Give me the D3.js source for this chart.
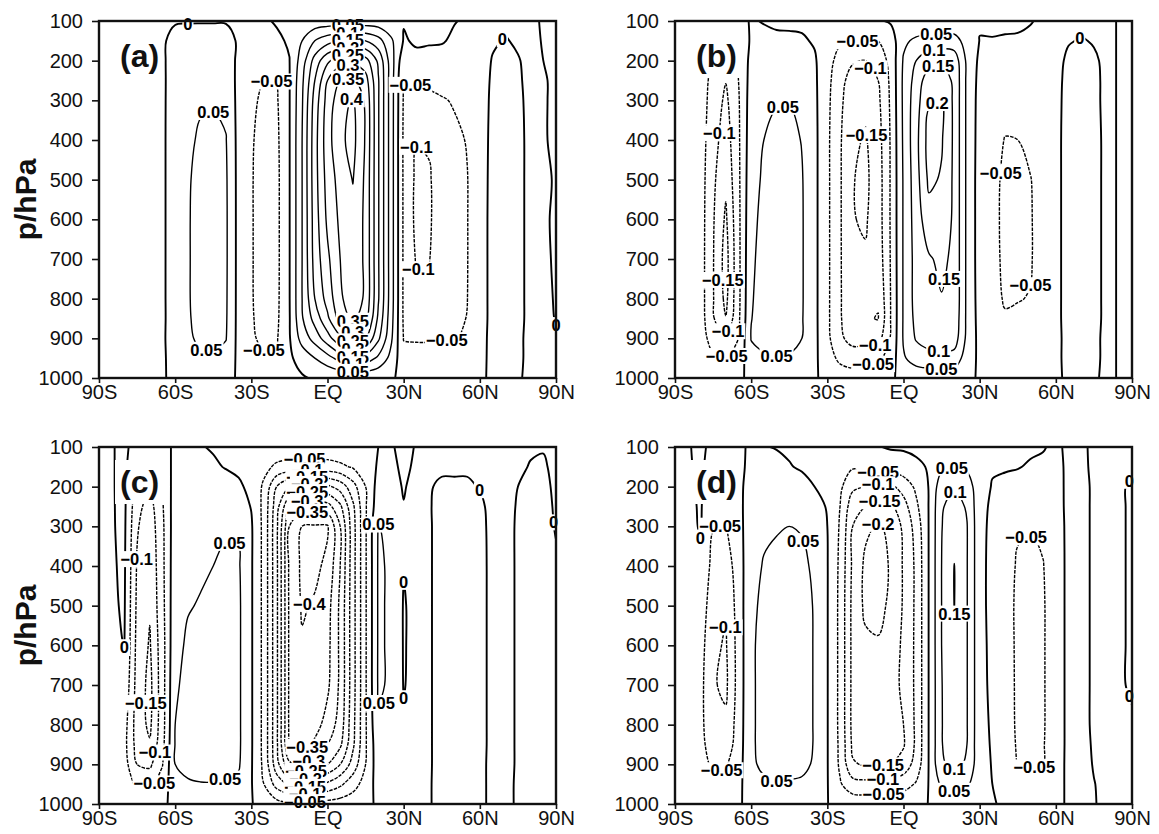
<!DOCTYPE html>
<html>
<head>
<meta charset="utf-8">
<script src="https://cdn.jsdelivr.net/npm/d3@7"></script>
<style>
  body { margin: 0; background: #fff; }
  svg { display: block; }
</style>
</head>
<body>
<svg id="chart" width="1159" height="834"></svg>
<script>
// grid: latitude columns (90S..90N) and pressure rows (hPa, top to bottom)
const lats = [-90,-85,-80,-75,-70,-65,-60,-55,-50,-45,-40,-35,-30,-25,-20,-15,-10,-5,0,
              5,10,15,20,25,30,35,40,45,50,55,60,65,70,75,80,85,90];
const levels = [100,150,200,250,300,400,500,600,700,800,850,900,950,1000];

const contourLevels = [-0.4,-0.35,-0.3,-0.25,-0.2,-0.15,-0.1,-0.05,0,
                       0.05,0.1,0.15,0.2,0.25,0.3,0.35,0.4];

const latTicks = [-90,-60,-30,0,30,60,90];
const latTickLabels = ["90S","60S","30S","EQ","30N","60N","90N"];
const pTicks = [100,200,300,400,500,600,700,800,900,1000];

// one profile per latitude, values at the 14 levels above
const psiA = [
  [-.004,-.005,-.006,-.007,-.007,-.007,-.007,-.007,-.007,-.007,-.007,-.006,-.005,-.004],
  [-.004,-.005,-.006,-.007,-.007,-.007,-.007,-.007,-.007,-.007,-.007,-.006,-.005,-.004],
  [-.004,-.005,-.006,-.007,-.007,-.007,-.007,-.007,-.007,-.007,-.007,-.006,-.005,-.004],
  [-.004,-.006,-.007,-.008,-.008,-.008,-.008,-.008,-.008,-.008,-.008,-.007,-.006,-.005],
  [-.004,-.006,-.007,-.008,-.008,-.008,-.008,-.008,-.008,-.008,-.008,-.007,-.006,-.005],
  [-.004,-.005,-.006,-.007,-.007,-.007,-.007,-.007,-.007,-.007,-.007,-.006,-.006,-.005],
  [-.003,.012,.018,.02,.021,.022,.022,.022,.022,.022,.021,.02,.016,.012],
  [-.003,.02,.03,.033,.036,.042,.046,.047,.047,.047,.046,.045,.035,.02],
  [-.003,.022,.035,.04,.045,.056,.062,.063,.063,.063,.062,.056,.045,.022],
  [-.003,.022,.035,.04,.045,.062,.067,.068,.068,.067,.065,.058,.045,.022],
  [-.003,.018,.03,.036,.04,.052,.056,.057,.057,.056,.055,.052,.035,.02],
  [-.004,-.006,-.012,-.015,-.015,-.016,-.016,-.016,-.016,-.016,-.016,-.016,-.012,-.008],
  [-.005,-.015,-.025,-.035,-.042,-.046,-.047,-.047,-.047,-.047,-.046,-.045,-.035,-.02],
  [-.004,-.022,-.04,-.052,-.058,-.065,-.068,-.068,-.068,-.067,-.065,-.058,-.045,-.025],
  [.003,-.006,-.03,-.048,-.055,-.06,-.062,-.062,-.062,-.061,-.059,-.054,-.042,-.02],
  [.006,.004,-.001,-.002,-.002,-.002,-.002,-.002,-.002,-.002,-.003,-.004,-.008,-.01],
  [.015,.05,.075,.09,.095,.1,.1,.1,.1,.1,.095,.07,.02,-.005],
  [.018,.1,.17,.2,.22,.23,.23,.225,.22,.2,.17,.12,.05,.005],
  [.02,.13,.24,.3,.32,.33,.32,.31,.29,.27,.24,.18,.08,.005],
  [.02,.15,.28,.35,.38,.39,.37,.36,.35,.34,.32,.24,.12,.005],
  [.02,.155,.29,.36,.405,.415,.402,.385,.385,.385,.36,.27,.14,.01],
  [.02,.15,.27,.32,.34,.345,.34,.34,.34,.34,.32,.25,.13,.01],
  [.018,.12,.19,.205,.205,.205,.205,.205,.205,.205,.19,.16,.09,.008],
  [.01,.06,.075,.075,.075,.075,.075,.075,.075,.075,.07,.06,.035,.005],
  [.002,-.003,-.035,-.052,-.055,-.058,-.058,-.058,-.058,-.058,-.057,-.052,-.035,-.01],
  [.004,.004,-.008,-.04,-.06,-.098,-.11,-.112,-.104,-.09,-.075,-.055,-.03,-.008],
  [.003,.003,-.01,-.04,-.06,-.095,-.105,-.106,-.102,-.085,-.07,-.055,-.03,-.008],
  [.002,.002,-.01,-.03,-.055,-.07,-.075,-.075,-.07,-.065,-.06,-.052,-.03,-.008],
  [.001,-.004,-.01,-.025,-.045,-.062,-.065,-.065,-.063,-.06,-.058,-.052,-.03,-.008],
  [-.003,-.005,-.008,-.015,-.03,-.047,-.052,-.052,-.052,-.051,-.049,-.045,-.025,-.006],
  [-.004,-.006,-.008,-.01,-.012,-.013,-.013,-.012,-.012,-.012,-.012,-.01,-.008,-.005],
  [-.004,-.002,.001,.003,.005,.007,.008,.008,.008,.008,.008,.008,.007,.005],
  [-.003,.001,.006,.009,.01,.011,.011,.011,.011,.011,.01,.009,.008,.006],
  [-.004,-.002,.001,.002,.003,.004,.004,.004,.004,.004,.004,.003,.003,.002],
  [-.004,-.004,-.004,-.004,-.004,-.004,-.004,-.004,-.004,-.004,-.004,-.004,-.004,-.004],
  [.002,.001,0,-.001,-.001,-.001,-.002,-.002,-.003,-.003,-.003,-.003,-.003,-.003],
  [.003,.003,.003,.002,.002,.002,.001,.002,.002,.001,.0005,-.001,-.002,-.002]
];

const psiB = [
  [-.005,-.01,-.015,-.018,-.02,-.022,-.024,-.025,-.025,-.024,-.022,-.018,-.012,-.006],
  [-.006,-.012,-.018,-.022,-.024,-.026,-.027,-.028,-.028,-.027,-.026,-.022,-.015,-.008],
  [-.008,-.018,-.024,-.026,-.027,-.027,-.027,-.027,-.027,-.027,-.026,-.022,-.015,-.008],
  [-.015,-.035,-.055,-.065,-.07,-.08,-.09,-.095,-.097,-.097,-.095,-.075,-.04,-.015],
  [-.02,-.048,-.085,-.098,-.11,-.125,-.14,-.158,-.17,-.163,-.148,-.098,-.048,-.02],
  [-.012,-.03,-.045,-.05,-.055,-.058,-.06,-.062,-.063,-.063,-.06,-.05,-.03,-.012],
  [.003,.005,.015,.02,.025,.03,.035,.04,.044,.047,.049,.052,.035,.015],
  [-.002,.01,.025,.035,.042,.05,.056,.06,.062,.064,.064,.062,.045,.02],
  [-.01,.012,.03,.042,.047,.062,.068,.07,.072,.072,.07,.065,.048,.02],
  [-.01,.01,.03,.042,.048,.064,.07,.072,.072,.072,.07,.064,.046,.02],
  [-.008,.005,.02,.03,.035,.048,.053,.054,.054,.054,.053,.05,.035,.015],
  [-.008,-.004,.005,.008,.01,.012,.012,.012,.012,.012,.012,.012,.01,.006],
  [-.01,-.02,-.03,-.035,-.038,-.04,-.04,-.04,-.04,-.04,-.04,-.038,-.03,-.015],
  [-.02,-.042,-.07,-.085,-.09,-.095,-.095,-.095,-.095,-.095,-.095,-.09,-.06,-.025],
  [-.025,-.042,-.095,-.12,-.13,-.14,-.148,-.148,-.145,-.14,-.135,-.12,-.07,-.03],
  [-.025,-.06,-.1,-.125,-.14,-.155,-.16,-.155,-.145,-.14,-.145,-.12,-.065,-.025],
  [-.005,-.05,-.08,-.1,-.11,-.12,-.125,-.125,-.13,-.145,-.152,-.12,-.06,-.02],
  [.005,-.025,-.035,-.04,-.042,-.045,-.045,-.045,-.046,-.048,-.048,-.045,-.03,-.01],
  [.005,.04,.055,.06,.06,.058,.055,.055,.055,.055,.055,.055,.045,.02],
  [.01,.06,.1,.12,.13,.135,.13,.125,.12,.12,.115,.105,.07,.02],
  [.01,.07,.13,.18,.195,.22,.21,.18,.145,.14,.135,.125,.08,.02],
  [.01,.075,.14,.18,.2,.205,.195,.185,.16,.148,.14,.13,.085,.02],
  [.01,.07,.13,.14,.14,.14,.14,.14,.14,.14,.135,.125,.08,.02],
  [.005,.03,.04,.04,.04,.04,.04,.04,.04,.04,.04,.038,.025,.008],
  [.003,-.001,-.01,-.015,-.018,-.02,-.022,-.022,-.022,-.02,-.018,-.015,-.01,-.004],
  [.004,-.001,-.012,-.018,-.022,-.03,-.035,-.035,-.035,-.033,-.03,-.022,-.012,-.004],
  [.004,-.002,-.015,-.022,-.03,-.052,-.06,-.062,-.06,-.055,-.045,-.03,-.015,-.005],
  [.003,-.002,-.015,-.022,-.03,-.05,-.062,-.062,-.06,-.052,-.042,-.03,-.015,-.005],
  [.001,-.004,-.012,-.018,-.025,-.035,-.052,-.054,-.054,-.048,-.038,-.028,-.015,-.005],
  [-.003,-.006,-.01,-.014,-.018,-.022,-.025,-.026,-.026,-.024,-.02,-.016,-.01,-.004],
  [-.003,-.004,-.005,-.005,-.005,-.005,-.005,-.005,-.005,-.005,-.005,-.005,-.004,-.003],
  [-.003,-.001,.003,.005,.006,.007,.007,.007,.007,.007,.007,.006,.005,.003],
  [-.004,.001,.006,.008,.009,.01,.01,.01,.01,.01,.01,.009,.007,.004],
  [-.003,-.001,.002,.003,.003,.004,.004,.004,.004,.004,.004,.003,.003,.002],
  [-.003,-.003,-.003,-.003,-.003,-.003,-.003,-.003,-.003,-.003,-.003,-.003,-.003,-.003],
  [.001,.001,.001,.001,.001,.001,.001,.001,.001,.001,.001,.001,.001,.001],
  [.003,.003,.003,.003,.003,.003,.003,.003,.003,.003,.003,.003,.003,.003]
];

const psiC = [
  [-.004,-.004,-.004,-.004,-.004,-.005,-.006,-.007,-.008,-.008,-.008,-.007,-.006,-.004],
  [-.003,-.003,-.003,-.003,-.003,-.004,-.005,-.006,-.007,-.008,-.008,-.007,-.006,-.004],
  [.01,.01,.01,.009,.008,.006,.004,.0005,-.01,-.03,-.035,-.03,-.02,-.008],
  [-.02,-.04,-.07,-.085,-.095,-.105,-.11,-.115,-.12,-.125,-.12,-.1,-.06,-.02],
  [-.03,-.055,-.1,-.12,-.13,-.14,-.145,-.155,-.165,-.16,-.145,-.11,-.06,-.02],
  [-.02,-.04,-.05,-.055,-.06,-.062,-.065,-.07,-.07,-.07,-.065,-.052,-.03,-.01],
  [.01,.02,.025,.028,.03,.033,.036,.04,.045,.05,.052,.05,.035,.015],
  [.008,.02,.03,.035,.038,.042,.048,.055,.06,.065,.066,.062,.045,.018],
  [.002,.015,.03,.038,.042,.046,.052,.06,.066,.07,.07,.066,.048,.02],
  [-.003,.005,.025,.038,.045,.05,.056,.064,.068,.07,.07,.066,.048,.02],
  [-.006,-.002,.015,.03,.045,.058,.062,.066,.068,.068,.068,.062,.045,.018],
  [-.008,-.006,.005,.02,.045,.055,.058,.058,.058,.058,.058,.055,.04,.015],
  [-.006,-.01,-.008,-.002,.005,.005,.005,.005,.005,.005,.005,.004,.003,.002],
  [-.01,-.035,-.06,-.065,-.065,-.065,-.065,-.065,-.065,-.065,-.065,-.062,-.05,-.015],
  [-.015,-.06,-.15,-.18,-.19,-.19,-.19,-.19,-.19,-.19,-.19,-.18,-.12,-.03],
  [-.015,-.07,-.2,-.3,-.35,-.36,-.36,-.36,-.36,-.36,-.355,-.29,-.16,-.04],
  [-.015,-.075,-.22,-.33,-.4,-.41,-.405,-.395,-.39,-.385,-.37,-.3,-.17,-.04],
  [-.015,-.075,-.22,-.33,-.405,-.41,-.395,-.385,-.38,-.37,-.34,-.28,-.16,-.03],
  [-.015,-.07,-.21,-.32,-.405,-.39,-.37,-.365,-.36,-.33,-.3,-.25,-.14,-.03],
  [-.012,-.06,-.18,-.26,-.3,-.3,-.29,-.29,-.29,-.28,-.26,-.2,-.11,-.025],
  [-.01,-.045,-.12,-.16,-.17,-.17,-.17,-.17,-.17,-.165,-.16,-.13,-.07,-.02],
  [-.005,-.025,-.05,-.055,-.055,-.055,-.055,-.055,-.055,-.055,-.055,-.05,-.03,-.01],
  [0,.005,.02,.03,.052,.055,.055,.055,.055,.045,.035,.03,.02,.006],
  [.003,.006,.01,.02,.035,.045,.045,.045,.045,.04,.035,.03,.02,.006],
  [-.008,-.005,-.002,.001,.005,.002,-.003,-.003,-.002,.004,.005,.005,.004,.002],
  [.002,.004,.008,.01,.012,.012,.012,.012,.012,.012,.012,.012,.01,.005],
  [.002,.003,.002,.002,.003,.003,.003,.003,.003,.003,.003,.003,.002,.001],
  [.004,.004,-.004,-.008,-.01,-.01,-.01,-.01,-.01,-.01,-.01,-.01,-.008,-.004],
  [.004,.004,-.004,-.006,-.01,-.012,-.012,-.012,-.012,-.012,-.012,-.011,-.009,-.004],
  [.004,.003,-.003,-.008,-.01,-.012,-.012,-.012,-.012,-.012,-.012,-.011,-.009,-.004],
  [.003,.002,.001,-.004,-.006,-.007,-.007,-.007,-.007,-.007,-.007,-.006,-.005,-.003],
  [.004,.005,.006,.006,.006,.006,.006,.006,.006,.006,.006,.006,.005,.003],
  [.005,.007,.008,.008,.008,.008,.008,.008,.008,.008,.008,.008,.006,.004],
  [.003,.003,0,-.002,-.003,-.003,-.003,-.003,-.003,-.003,-.003,-.003,-.003,-.002],
  [.002,-.001,-.004,-.006,-.006,-.006,-.006,-.006,-.006,-.006,-.006,-.006,-.005,-.003],
  [.001,-.002,-.004,-.005,-.005,-.005,-.005,-.005,-.005,-.005,-.005,-.005,-.004,-.003],
  [.004,.004,.003,.002,.001,-.002,-.003,-.003,-.003,-.003,-.003,-.003,-.003,-.002]
];

const psiD = [
  [-.006,-.008,-.01,-.012,-.013,-.014,-.015,-.016,-.016,-.016,-.015,-.013,-.01,-.006],
  [-.003,-.005,-.008,-.012,-.015,-.018,-.02,-.022,-.022,-.022,-.02,-.018,-.012,-.006],
  [.008,.008,.006,.005,.004,-.01,-.02,-.03,-.035,-.035,-.032,-.028,-.018,-.008],
  [-.01,-.02,-.03,-.04,-.048,-.065,-.08,-.09,-.095,-.09,-.08,-.06,-.035,-.015],
  [-.015,-.025,-.035,-.045,-.052,-.075,-.095,-.105,-.11,-.09,-.08,-.055,-.035,-.015],
  [-.005,-.01,-.012,-.015,-.02,-.026,-.028,-.03,-.03,-.028,-.026,-.022,-.015,-.006],
  [.004,.01,.02,.028,.035,.04,.044,.046,.046,.046,.046,.045,.035,.015],
  [.002,.015,.03,.04,.045,.052,.056,.058,.058,.058,.058,.056,.045,.02],
  [-.002,.012,.03,.04,.048,.056,.06,.062,.062,.062,.062,.06,.048,.02],
  [-.005,.002,.025,.04,.05,.058,.062,.064,.064,.064,.064,.06,.047,.02],
  [-.006,-.004,.012,.035,.048,.056,.06,.062,.062,.062,.062,.058,.045,.018],
  [-.006,-.006,0,.02,.035,.045,.048,.048,.048,.048,.048,.046,.035,.014],
  [-.008,-.01,-.008,-.004,0,.002,.002,.002,.002,.002,.002,.002,.002,.001],
  [-.01,-.025,-.04,-.05,-.055,-.06,-.062,-.062,-.062,-.062,-.06,-.058,-.045,-.015],
  [-.015,-.045,-.09,-.13,-.15,-.16,-.165,-.165,-.165,-.165,-.16,-.145,-.08,-.02],
  [-.006,-.03,-.1,-.15,-.19,-.21,-.21,-.19,-.18,-.175,-.17,-.155,-.085,-.02],
  [-.002,-.028,-.11,-.165,-.205,-.22,-.215,-.195,-.18,-.175,-.17,-.155,-.085,-.02],
  [.004,-.025,-.11,-.16,-.19,-.195,-.19,-.18,-.17,-.165,-.165,-.152,-.08,-.02],
  [.005,-.02,-.08,-.12,-.14,-.145,-.145,-.14,-.14,-.15,-.155,-.13,-.07,-.015],
  [.005,-.005,-.04,-.06,-.08,-.09,-.09,-.09,-.09,-.09,-.09,-.08,-.045,-.01],
  [.004,.002,.002,.002,.002,.002,.002,.002,.002,.002,.002,.002,.002,.001],
  [.004,.04,.08,.095,.098,.1,.1,.1,.098,.098,.098,.095,.06,.02],
  [.004,.05,.095,.12,.135,.151,.151,.146,.14,.13,.125,.11,.065,.02],
  [.004,.04,.08,.095,.102,.102,.102,.102,.102,.102,.1,.095,.06,.02],
  [.002,.01,.015,.015,.015,.015,.015,.015,.015,.015,.015,.015,.012,.006],
  [.003,.003,-.002,-.008,-.012,-.015,-.015,-.012,-.01,-.006,-.004,-.002,0,.002],
  [.004,.002,-.005,-.015,-.025,-.03,-.032,-.03,-.028,-.025,-.022,-.018,-.01,-.004],
  [.004,.001,-.008,-.025,-.045,-.055,-.058,-.058,-.058,-.058,-.056,-.052,-.03,-.008],
  [.003,-.002,-.01,-.03,-.048,-.06,-.062,-.062,-.062,-.062,-.06,-.055,-.032,-.008],
  [.001,-.003,-.01,-.025,-.04,-.052,-.056,-.056,-.056,-.056,-.054,-.05,-.03,-.008],
  [-.003,-.006,-.008,-.01,-.012,-.013,-.013,-.013,-.013,-.013,-.013,-.012,-.01,-.006],
  [.003,.004,.005,.006,.006,.006,.006,.006,.006,.006,.006,.006,.005,.003],
  [.004,.005,.006,.006,.006,.006,.006,.006,.006,.006,.006,.006,.005,.003],
  [-.004,-.004,-.003,-.003,-.003,-.003,-.003,-.003,-.003,-.003,-.002,-.001,.0005,.001],
  [-.004,-.004,-.004,-.004,-.004,-.004,-.004,-.004,-.004,-.004,-.004,-.004,-.004,-.004],
  [-.003,-.002,-.001,-.001,-.001,-.001,-.001,-.001,-.001,-.002,-.003,-.003,-.003,-.003],
  [-.002,-.001,.001,.001,.001,.001,.001,.001,.001,-.001,-.002,-.002,-.002,-.002]
];

// contour labels: [value, latitude, pressure] near where each label sits
const labelsA = [
  [0,-55,100],[0.05,-45,323],[0.05,-48,947],[-0.05,-21,245],[-0.05,-25,930],
  [0.05,8,108],[0.1,8,130],[0.15,8,148],[0.2,8,167],[0.25,8,186],[0.3,8,207],[0.35,8,243],[0.4,9,294],
  [0.35,10,856],[0.3,10,883],[0.25,10,907],[0.2,10,927],[0.15,10,946],[0.1,10,964],[0.05,10,982],
  [-0.05,35,245],[-0.1,36,396],[-0.1,38,753],[-0.05,47,922],[0,70,152],[0,88,870]
];
const labelsB = [
  [-0.1,-72,383],[-0.15,-72,753],[-0.1,-70,880],[-0.05,-70,943],
  [0.05,-47,331],[0.05,-50,951],
  [-0.05,-17,165],[-0.1,-15,228],[-0.15,-15,388],[-0.1,-11,938],[-0.05,-12,964],
  [0.05,13,140],[0.1,12,173],[0.15,13.5,211],[0.2,12.6,300],[0.15,15,749],[0.1,14,926],[0.05,15,964],
  [-0.05,35,480],[-0.05,50,766],[0,70,148]
];
const labelsC = [
  [-0.1,-73,383],[0,-80,606],[-0.15,-73,745],[-0.1,-70,867],[-0.05,-70,943],
  [0.05,-38,331],[0.05,-40,943],
  [-0.05,-9,144],[-0.1,-8,160],[-0.15,-8,176],[-0.2,-8,195],[-0.25,-8,214],[-0.3,-8,236],[-0.35,-8,255],[-0.4,-8,493],
  [-0.35,-9,846],[-0.3,-9,871],[-0.25,-9,900],[-0.2,-9,922],[-0.15,-9,947],[-0.1,-9,968],[-0.05,-9,989],
  [0.05,22,274],[0.05,22,749],[0,30,438],[0,28,779],[0,62,198],[0,87,291]
];
const labelsD = [
  [-0.05,-72,300],[0,-79,333],[-0.1,-72,552],[-0.05,-72,905],
  [0.05,-42,341],[0.05,-50,955],
  [-0.05,-10,165],[-0.1,-10,186],[-0.15,-9,215],[-0.2,-10,274],
  [-0.15,-8,905],[-0.1,-8,943],[-0.05,-8,964],
  [0.05,19,152],[0.1,20,215],[0.15,20,526],[0.1,20,917],[0.05,20,964],
  [-0.05,48,326],[-0.05,52,917],[0,87,177],[0,87,732]
];

const FONT = '"Liberation Sans", Arial, Helvetica, sans-serif';
const plotW = 457, plotH = 357;
const nx = lats.length, ny = levels.length;

[psiA, psiB, psiC, psiD].forEach((psi, k) => {
  if (psi.length !== nx) throw new Error("panel " + k + " has " + psi.length + " columns");
  psi.forEach((col, i) => {
    if (col.length !== ny) throw new Error("panel " + k + " column " + i + " has " + col.length + " values");
  });
});

const svg = d3.select("#chart");
svg.append("rect").attr("width", 1159).attr("height", 834).attr("fill", "#fff");

const x = d3.scaleLinear().domain([-90, 90]).range([0, plotW]);
const y = d3.scaleLinear().domain([100, 1000]).range([0, plotH]);
// grid index -> latitude / pressure (pressure rows are not evenly spaced)
const colToLat = d3.scaleLinear().domain(lats.map((d, i) => i)).range(lats);
const rowToLev = d3.scaleLinear().domain(levels.map((d, i) => i)).range(levels);

const contourGen = d3.contours().size([nx, ny]).thresholds(contourLevels);
const lineOpen = d3.line().curve(d3.curveCatmullRom.alpha(0.5));
const lineClosed = d3.line().curve(d3.curveCatmullRomClosed.alpha(0.5));

function fmt(v) {
  const s = String(+Math.abs(v).toFixed(2));
  return v < 0 ? "\u2212" + s : s;
}

// turn the filled contour polygons into isolines (drop the pieces that run along the frame)
function isolines(psi) {
  const grid = [];
  for (let j = 0; j < ny; j++) for (let i = 0; i < nx; i++) grid.push(psi[i][j]);
  const eps = 1e-6;
  const side = p => (p[2] < eps ? 1 : 0) | (p[2] > nx - 1 - eps ? 2 : 0) |
                    (p[3] < eps ? 4 : 0) | (p[3] > ny - 1 - eps ? 8 : 0);
  const out = [];
  contourGen(grid).forEach(c => {
    c.coordinates.forEach(poly => poly.forEach(ring => {
      let pts = ring.slice(0, -1).map(([cx, cy]) => {
        const gi = Math.max(0, Math.min(nx - 1, cx - 0.5));
        const gj = Math.max(0, Math.min(ny - 1, cy - 0.5));
        return [x(colToLat(gi)), y(rowToLev(gj)), gi, gj];
      });
      pts = pts.filter((p, k) => {
        const q = pts[(k + 1) % pts.length];
        return Math.abs(p[0] - q[0]) + Math.abs(p[1] - q[1]) > 0.05;
      });
      const n = pts.length;
      if (n < 2) return;
      const edge = pts.map((p, k) => (side(p) & side(pts[(k + 1) % n])) !== 0);
      if (!edge.some(Boolean)) {
        if (n > 2) out.push({ value: c.value, pts: pts, closed: true });
        return;
      }
      const start = edge.indexOf(true);
      let run = [];
      for (let s = 1; s <= n; s++) {
        const k = (start + s) % n;
        if (edge[k]) {
          if (run.length > 1) out.push({ value: c.value, pts: run, closed: false });
          run = [];
        } else {
          if (!run.length) run.push(pts[k]);
          run.push(pts[(k + 1) % n]);
        }
      }
      if (run.length > 1) out.push({ value: c.value, pts: run, closed: false });
    }));
  });
  return out;
}

function nearestOn(lines, v, px, py) {
  let best = null, bd = Infinity;
  lines.filter(l => Math.abs(l.value - v) < 1e-9).forEach(l => {
    const P = l.pts, m = l.closed ? P.length : P.length - 1;
    for (let k = 0; k < m; k++) {
      const a = P[k], b = P[(k + 1) % P.length];
      const dx = b[0] - a[0], dy = b[1] - a[1];
      const L = dx * dx + dy * dy;
      let t = L > 0 ? ((px - a[0]) * dx + (py - a[1]) * dy) / L : 0;
      t = Math.max(0, Math.min(1, t));
      const qx = a[0] + t * dx, qy = a[1] + t * dy;
      const d = (qx - px) * (qx - px) + (qy - py) * (qy - py);
      if (d < bd) { bd = d; best = [qx, qy]; }
    }
  });
  return best;
}

const panels = [
  { psi: psiA, labels: labelsA, tag: "(a)", left: 99, top: 21, yTitle: true },
  { psi: psiB, labels: labelsB, tag: "(b)", left: 675, top: 21, yTitle: false },
  { psi: psiC, labels: labelsC, tag: "(c)", left: 99, top: 447, yTitle: true },
  { psi: psiD, labels: labelsD, tag: "(d)", left: 675, top: 447, yTitle: false }
];

panels.forEach((pn, idx) => {
  const g = svg.append("g").attr("transform", `translate(${pn.left},${pn.top})`);
  const clipId = "clip" + idx;
  g.append("clipPath").attr("id", clipId)
    .append("rect").attr("width", plotW).attr("height", plotH);

  const lines = isolines(pn.psi);

  g.append("g").attr("clip-path", `url(#${clipId})`)
    .selectAll("path").data(lines).join("path")
    .attr("d", d => (d.closed ? lineClosed : lineOpen)(d.pts.map(p => [p[0], p[1]])))
    .attr("fill", "none")
    .attr("stroke", "#000")
    .attr("stroke-width", d => d.value === 0 ? 1.9 : 1.4)
    .attr("stroke-dasharray", d => d.value < 0 ? "3.5,1.2" : null)
    .attr("stroke-linejoin", "round");

  // contour labels with white boxes
  const lab = g.append("g").attr("font-family", FONT).attr("font-size", 16.5)
    .attr("font-weight", "bold").attr("fill", "#000");
  pn.labels.forEach(([v, la, p]) => {
    const pos = nearestOn(lines, v, x(la), y(p));
    if (!pos) return;
    const lg = lab.append("g").attr("transform", `translate(${pos[0]},${pos[1]})`);
    const t = lg.append("text").attr("text-anchor", "middle").attr("dy", "0.36em").text(fmt(v));
    const bb = t.node().getBBox();
    lg.insert("rect", "text")
      .attr("x", bb.x - 1).attr("y", -8)
      .attr("width", bb.width + 2).attr("height", 16)
      .attr("fill", "#fff");
  });

  // panel tag with its own white box
  const tg = g.append("g");
  const tt = tg.append("text")
    .attr("x", 21).attr("y", 46)
    .attr("font-family", FONT).attr("font-weight", "bold").attr("font-size", 32)
    .attr("fill", "#111").text(pn.tag);
  const tb = tt.node().getBBox();
  tg.insert("rect", "text")
    .attr("x", tb.x - 5).attr("y", tb.y - 4)
    .attr("width", tb.width + 10).attr("height", tb.height + 8)
    .attr("fill", "#fff");

  // frame
  g.append("rect").attr("width", plotW).attr("height", plotH)
    .attr("fill", "none").attr("stroke", "#111").attr("stroke-width", 2.4);

  const ya = g.append("g")
    .call(d3.axisLeft(y).tickValues(pTicks).tickSize(7).tickPadding(9).tickFormat(d3.format("d")));
  ya.select(".domain").remove();
  ya.attr("font-family", FONT).attr("font-size", 20);
  ya.selectAll("line").attr("stroke", "#111").attr("stroke-width", 1.6);
  ya.selectAll("text").attr("fill", "#111");

  const xa = g.append("g").attr("transform", `translate(0,${plotH})`)
    .call(d3.axisBottom(x).tickValues(latTicks).tickSize(5).tickPadding(2)
      .tickFormat((d, i) => latTickLabels[i]));
  xa.select(".domain").remove();
  xa.attr("font-family", FONT).attr("font-size", 20);
  xa.selectAll("line").attr("stroke", "#111").attr("stroke-width", 1.6);
  xa.selectAll("text").attr("fill", "#111");

  if (pn.yTitle) {
    svg.append("text")
      .attr("transform", `translate(36,${pn.top + plotH / 2}) rotate(-90)`)
      .attr("text-anchor", "middle")
      .attr("font-family", FONT).attr("font-weight", "bold").attr("font-size", 30)
      .attr("fill", "#111").text("p/hPa");
  }
});
</script>
</body>
</html>
